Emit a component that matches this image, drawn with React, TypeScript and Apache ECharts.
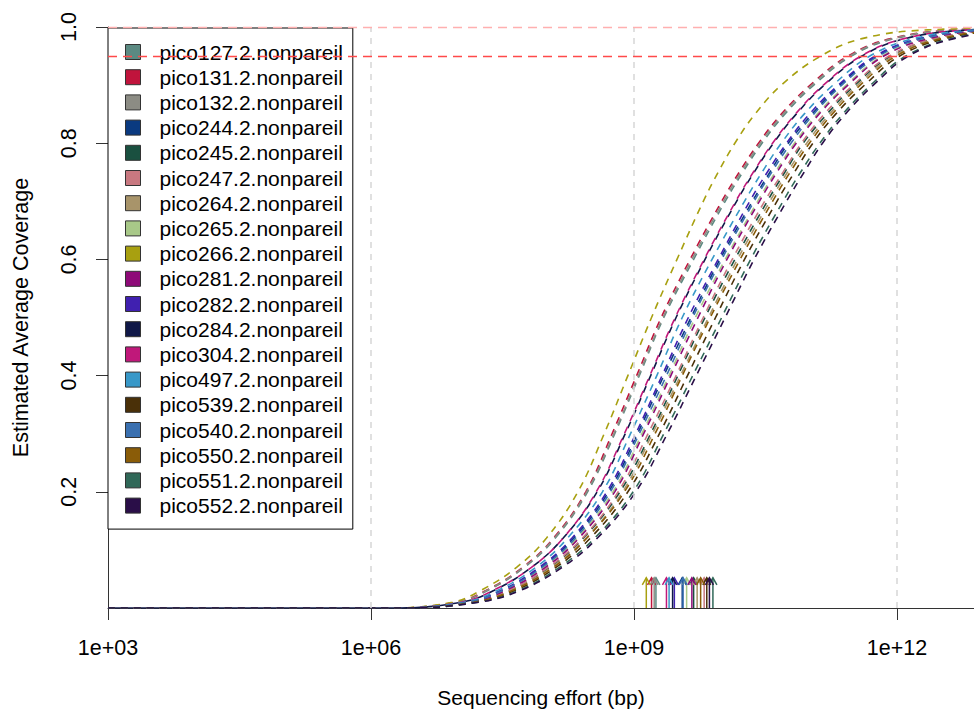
import React, { useEffect, useRef } from 'react';
import * as echarts from 'echarts';

const FONT = '"Liberation Sans", Arial, Helvetica, sans-serif';

const sampleNames = [
  'pico127.2.nonpareil', 'pico131.2.nonpareil', 'pico132.2.nonpareil', 'pico244.2.nonpareil',
  'pico245.2.nonpareil', 'pico247.2.nonpareil', 'pico264.2.nonpareil', 'pico265.2.nonpareil',
  'pico266.2.nonpareil', 'pico281.2.nonpareil', 'pico282.2.nonpareil', 'pico284.2.nonpareil',
  'pico304.2.nonpareil', 'pico497.2.nonpareil', 'pico539.2.nonpareil', 'pico540.2.nonpareil',
  'pico550.2.nonpareil', 'pico551.2.nonpareil', 'pico552.2.nonpareil',
];

const sampleColors = [
  '#5B8A82', '#C0143C', '#8C8C84', '#0A3A80', '#1A5040', '#C87880', '#A8946A', '#A8C888',
  '#A8A010', '#8E0A78', '#4020B0', '#101848', '#C0187A', '#3898C8', '#4A3008', '#3A70B0',
  '#8A5C08', '#306858', '#2A0E48',
];

// Coverage levels, and for each sample the log10 sequencing effort (bp) at which its curve reaches them
const coverageLevels = [0, 0.01, 0.03, 0.07, 0.12, 0.2, 0.3, 0.4, 0.5, 0.6, 0.7, 0.75, 0.8, 0.85, 0.9, 0.95, 0.98, 0.995];

const effort127 = [6.23, 6.98, 7.33, 7.75, 8.10, 8.47, 8.78, 9.06, 9.34, 9.68, 10.04, 10.24, 10.46, 10.72, 11.05, 11.48, 11.97, 12.70];
const effort131 = [6.23, 6.97, 7.31, 7.73, 8.08, 8.45, 8.75, 9.03, 9.31, 9.64, 10.0, 10.20, 10.42, 10.68, 11.01, 11.44, 11.93, 12.66];
const effort132 = [6.23, 6.98, 7.32, 7.74, 8.09, 8.46, 8.77, 9.05, 9.33, 9.66, 10.02, 10.22, 10.44, 10.70, 11.03, 11.46, 11.95, 12.68];
const effort244 = [6.31, 7.09, 7.49, 7.94, 8.31, 8.71, 9.04, 9.34, 9.65, 9.98, 10.35, 10.55, 10.76, 11.03, 11.35, 11.77, 12.27, 12.99];
const effort245 = [6.35, 7.15, 7.58, 8.04, 8.42, 8.84, 9.19, 9.50, 9.81, 10.15, 10.52, 10.72, 10.93, 11.20, 11.52, 11.93, 12.44, 13.15];
const effort247 = [6.34, 7.14, 7.57, 8.02, 8.41, 8.82, 9.16, 9.48, 9.79, 10.12, 10.49, 10.70, 10.91, 11.17, 11.50, 11.91, 12.42, 13.13];
const effort264 = [6.35, 7.16, 7.60, 8.06, 8.45, 8.87, 9.21, 9.53, 9.85, 10.18, 10.55, 10.75, 10.97, 11.23, 11.55, 11.96, 12.47, 13.18];
const effort265 = [6.32, 7.11, 7.52, 7.97, 8.35, 8.76, 9.09, 9.40, 9.70, 10.04, 10.41, 10.61, 10.83, 11.09, 11.42, 11.83, 12.34, 13.05];
const effort266 = [6.2, 6.93, 7.25, 7.66, 8.0, 8.36, 8.66, 8.93, 9.2, 9.49, 9.79, 9.96, 10.15, 10.38, 10.68, 11.13, 11.6, 12.35];
const effort281 = [6.33, 7.12, 7.53, 7.99, 8.37, 8.78, 9.11, 9.42, 9.73, 10.06, 10.43, 10.63, 10.85, 11.11, 11.44, 11.85, 12.36, 13.07];
const effort282 = [6.30, 7.08, 7.48, 7.92, 8.29, 8.69, 9.02, 9.32, 9.62, 9.96, 10.32, 10.52, 10.74, 11.00, 11.33, 11.75, 12.25, 12.97];
const effort284 = [6.27, 7.03, 7.40, 7.83, 8.19, 8.58, 8.90, 9.19, 9.48, 9.81, 10.17, 10.37, 10.59, 10.85, 11.17, 11.60, 12.09, 12.82];
const effort304 = [6.26, 7.03, 7.39, 7.83, 8.19, 8.57, 8.89, 9.18, 9.47, 9.80, 10.16, 10.36, 10.58, 10.84, 11.16, 11.59, 12.08, 12.81];
const effort497 = [6.28, 7.06, 7.44, 7.88, 8.24, 8.64, 8.96, 9.26, 9.55, 9.89, 10.26, 10.46, 10.68, 10.94, 11.27, 11.69, 12.19, 12.91];
const effort539 = [6.37, 7.19, 7.64, 8.11, 8.50, 8.93, 9.29, 9.61, 9.93, 10.26, 10.63, 10.83, 11.04, 11.30, 11.63, 12.03, 12.55, 13.25];
const effort540 = [6.31, 7.10, 7.50, 7.95, 8.33, 8.73, 9.06, 9.37, 9.67, 10.0, 10.37, 10.57, 10.79, 11.05, 11.37, 11.79, 12.29, 13.01];
const effort550 = [6.36, 7.17, 7.61, 8.08, 8.46, 8.89, 9.24, 9.55, 9.87, 10.21, 10.58, 10.78, 11.0, 11.26, 11.58, 11.99, 12.50, 13.21];
const effort551 = [6.39, 7.22, 7.68, 8.15, 8.55, 8.99, 9.34, 9.67, 10.0, 10.33, 10.70, 10.90, 11.12, 11.38, 11.70, 12.10, 12.62, 13.32];
const effort552 = [6.40, 7.23, 7.70, 8.18, 8.58, 9.02, 9.38, 9.71, 10.04, 10.37, 10.74, 10.94, 11.15, 11.41, 11.73, 12.13, 12.65, 13.35];

const sampleEfforts = [
  effort127, effort131, effort132, effort244, effort245, effort247, effort264, effort265, effort266,
  effort281, effort282, effort284, effort304, effort497, effort539, effort540, effort550, effort551, effort552,
];

// Actual sequencing effort of each sample (log10 bp), drawn as arrows
const actualEffort = [9.25, 9.20, 9.23, 9.55, 9.68, 9.80, 9.72, 9.60, 9.14, 9.66, 9.46, 9.44, 9.37, 9.40, 9.83, 9.56, 9.76, 9.90, 9.86];
const arrowHeight = 0.052;

const xTicks = [3, 6, 9, 12];
const yTicks = [0.2, 0.4, 0.6, 0.8, 1.0];
const xGuides = [6, 9, 12];
const targetCoverage = 0.95;

export default function App() {
  const ref = useRef<HTMLDivElement>(null);
  useEffect(() => {
    document.body.style.margin = '0';
    const chart = echarts.init(ref.current!, null, { renderer: 'svg' });

    const curveSeries = sampleNames.map((name, i) => ({
      name,
      type: 'line',
      data: [[3, 0], ...sampleEfforts[i].map((x, k) => [x, coverageLevels[k]]), [14, 1]],
      symbol: 'none',
      showSymbol: false,
      smooth: 0.4,
      silent: true,
      z: 3,
      itemStyle: { color: sampleColors[i] },
      lineStyle: {
        color: sampleColors[i],
        width: 1.6,
        type: [7, 6],
        dashOffset: name === 'pico284.2.nonpareil' ? 6.5 : 0,
      },
    }));

    const guideSeries = {
      name: 'guides',
      type: 'line',
      data: [],
      z: 1,
      silent: true,
      markLine: {
        silent: true,
        symbol: ['none', 'none'],
        label: { show: false },
        lineStyle: { color: '#D9D9D9', width: 1.6, type: [6, 6] },
        data: [
          ...xGuides.map((v) => ({ xAxis: v })),
          { yAxis: targetCoverage, lineStyle: { color: '#FF4A4A', width: 1.4, type: [9, 6] } },
          { yAxis: 1, lineStyle: { color: '#FFB0B0', width: 1.4, type: [9, 6] } },
        ],
      },
    };

    const arrowSeries = {
      name: 'effort',
      type: 'custom',
      silent: true,
      z: 4,
      data: actualEffort.map((x, i) => ({ value: [x, arrowHeight], itemStyle: { color: sampleColors[i] } })),
      encode: { x: 0, y: 1 },
      renderItem: (params: any, api: any) => {
        const x = api.value(0);
        const t = api.value(1);
        const p0 = api.coord([x, 0]);
        const p1 = api.coord([x, t]);
        const color = api.visual('color');
        return {
          type: 'group',
          children: [
            { type: 'line', shape: { x1: p0[0], y1: p0[1], x2: p1[0], y2: p1[1] }, style: { stroke: color, lineWidth: 1.5 } },
            {
              type: 'polyline',
              shape: { points: [[p1[0] - 4, p1[1] + 7], [p1[0], p1[1]], [p1[0] + 4, p1[1] + 7]] },
              style: { stroke: color, lineWidth: 1.5, fill: 'none' },
            },
          ],
        };
      },
    };

    chart.setOption({
      animation: false,
      backgroundColor: '#fff',
      textStyle: { fontFamily: FONT },
      grid: { left: 108, right: 0, top: 27, bottom: 101, containLabel: false, outerBoundsMode: 'none' },
      legend: {
        data: sampleNames,
        orient: 'vertical',
        left: 108,
        top: 28,
        padding: [13.5, 10, 13, 17],
        itemGap: 4.2,
        itemWidth: 15,
        itemHeight: 15,
        icon: 'rect',
        backgroundColor: '#fff',
        borderColor: '#000',
        borderWidth: 1,
        selectedMode: false,
        itemStyle: { borderColor: '#333', borderWidth: 1, borderType: 'solid' },
        textStyle: { fontFamily: FONT, fontSize: 21, color: '#000', lineHeight: 21, padding: [0, 0, 0, 14] },
      },
      xAxis: {
        type: 'value',
        min: 3,
        max: 12.878,
        name: 'Sequencing effort (bp)',
        nameLocation: 'middle',
        nameGap: 79,
        nameTextStyle: { fontFamily: FONT, fontSize: 21, color: '#000' },
        axisLine: { show: true, lineStyle: { color: '#333', width: 1 } },
        axisTick: { show: true, customValues: xTicks, length: 12, lineStyle: { color: '#333' } },
        axisLabel: {
          customValues: xTicks,
          margin: 29,
          fontFamily: FONT,
          fontSize: 21.5,
          color: '#000',
          formatter: (v: number) => (v < 10 ? '1e+0' + v : '1e+' + v),
        },
        splitLine: { show: false },
      },
      yAxis: {
        type: 'value',
        min: 0,
        max: 1,
        name: 'Estimated Average Coverage',
        nameLocation: 'middle',
        nameGap: 76,
        nameTextStyle: { fontFamily: FONT, fontSize: 21.5, color: '#000' },
        axisLine: { show: true, lineStyle: { color: '#333', width: 1 } },
        axisTick: { show: true, customValues: yTicks, length: 12, lineStyle: { color: '#333' } },
        axisLabel: {
          customValues: yTicks,
          rotate: 90,
          margin: 28,
          fontFamily: FONT,
          fontSize: 21.5,
          color: '#000',
          formatter: (v: number) => v.toFixed(1),
        },
        splitLine: { show: false },
      },
      series: [guideSeries, ...curveSeries, arrowSeries],
    } as any);

    return () => chart.dispose();
  }, []);
  return <div ref={ref} style={{ width: 974, height: 709 }} />;
}
